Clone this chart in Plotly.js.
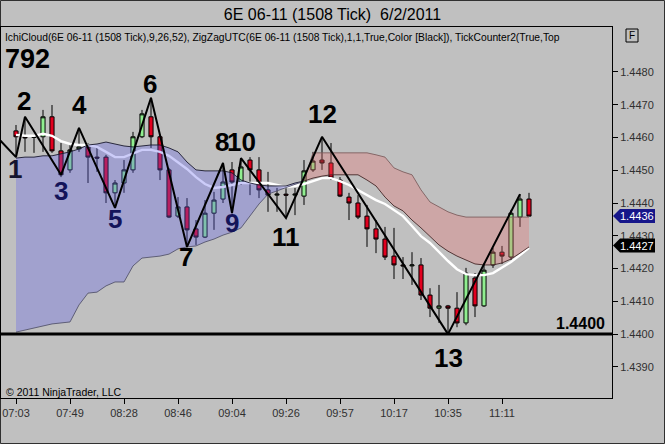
<!DOCTYPE html>
<html><head><meta charset="utf-8">
<script src="https://cdn.plot.ly/plotly-3.0.1.min.js"></script>
<style>html,body{margin:0;padding:0;background:#c0c0c0;}#chart{width:665px;height:444px;}</style>
</head><body><div id="chart"></div>
<script>
// ---- data (bar index = tick bar number) ----
const bars = Array.from({length:58},(_,i)=>i);
const openP  = [1.44620,1.44602,1.44600,1.44602,1.44663,1.44559,1.44501,1.44565,1.44571,1.44540,1.44540,1.44431,1.44461,1.44501,1.44602,1.44663,1.44602,1.44501,1.44360,1.44388,1.44321,1.44296,1.44369,1.44412,1.44501,1.44464,1.44531,1.44501,1.44440,1.44424,1.44427,1.44424,1.44421,1.44501,1.44531,1.44522,1.44470,1.44418,1.44400,1.44360,1.44321,1.44290,1.44238,1.44211,1.44208,1.44211,1.44119,1.44079,1.44086,1.44079,1.44034,1.44171,1.44086,1.44211,1.44250,1.44235,1.44357,1.44412];
const highP  = [1.44638,1.44663,1.44608,1.44684,1.44699,1.44583,1.44577,1.44629,1.44583,1.44568,1.44547,1.44470,1.44531,1.44617,1.44684,1.44721,1.44608,1.44507,1.44418,1.44415,1.44348,1.44409,1.44434,1.44522,1.44525,1.44537,1.44540,1.44540,1.44495,1.44446,1.44446,1.44446,1.44531,1.44556,1.44602,1.44583,1.44479,1.44431,1.44424,1.44394,1.44348,1.44327,1.44324,1.44235,1.44250,1.44232,1.44140,1.44150,1.44089,1.44128,1.44202,1.44186,1.44217,1.44263,1.44269,1.44379,1.44427,1.44431];
const lowP   = [1.44540,1.44556,1.44553,1.44556,1.44553,1.44479,1.44492,1.44556,1.44461,1.44495,1.44400,1.44385,1.44431,1.44492,1.44598,1.44568,1.44470,1.44354,1.44354,1.44266,1.44272,1.44293,1.44318,1.44400,1.44369,1.44455,1.44424,1.44415,1.44373,1.44373,1.44354,1.44363,1.44394,1.44495,1.44501,1.44470,1.44418,1.44348,1.44351,1.44266,1.44247,1.44226,1.44168,1.44168,1.44150,1.44104,1.44052,1.44034,1.44000,1.44021,1.44027,1.44052,1.44083,1.44202,1.44214,1.44226,1.44327,1.44360];
const closeP = [1.44602,1.44599,1.44603,1.44663,1.44559,1.44486,1.44562,1.44571,1.44540,1.44537,1.44431,1.44461,1.44501,1.44602,1.44672,1.44602,1.44501,1.44357,1.44388,1.44318,1.44296,1.44369,1.44409,1.44464,1.44464,1.44510,1.44501,1.44440,1.44424,1.44427,1.44424,1.44427,1.44498,1.44528,1.44522,1.44476,1.44421,1.44400,1.44357,1.44321,1.44290,1.44235,1.44211,1.44208,1.44211,1.44119,1.44079,1.44086,1.44079,1.44034,1.44186,1.44086,1.44195,1.44250,1.44238,1.44369,1.44412,1.44360];
const spanA  = [1.44537,1.44540,1.44540,1.44544,1.44544,1.44550,1.44556,1.44565,1.44577,1.44580,1.44586,1.44580,1.44574,1.44571,1.44574,1.44577,1.44577,1.44568,1.44556,1.44525,1.44501,1.44498,1.44498,1.44498,1.44492,1.44470,1.44461,1.44455,1.44452,1.44452,1.44452,1.44461,1.44467,1.44476,1.44482,1.44486,1.44486,1.44486,1.44486,1.44470,1.44452,1.44418,1.44391,1.44376,1.44348,1.44324,1.44299,1.44272,1.44253,1.44238,1.44226,1.44214,1.44211,1.44211,1.44217,1.44229,1.44247,1.44266];
const spanB  = [1.44006,1.44012,1.44018,1.44024,1.44031,1.44034,1.44037,1.44089,1.44125,1.44128,1.44147,1.44159,1.44159,1.44208,1.44232,1.44235,1.44238,1.44244,1.44260,1.44266,1.44269,1.44281,1.44290,1.44302,1.44311,1.44324,1.44360,1.44397,1.44427,1.44437,1.44446,1.44455,1.44467,1.44553,1.44553,1.44553,1.44553,1.44553,1.44553,1.44553,1.44547,1.44540,1.44507,1.44495,1.44486,1.44440,1.44403,1.44388,1.44373,1.44363,1.44357,1.44357,1.44357,1.44357,1.44357,1.44357,1.44357,1.44357];
const whiteLine = [1.44608,1.44605,1.44605,1.44611,1.44605,1.44589,1.44580,1.44577,1.44577,1.44571,1.44556,1.44540,1.44540,1.44550,1.44562,1.44562,1.44556,1.44544,1.44525,1.44504,1.44479,1.44458,1.44446,1.44449,1.44455,1.44461,1.44461,1.44461,1.44461,1.44455,1.44449,1.44452,1.44458,1.44467,1.44476,1.44476,1.44467,1.44455,1.44440,1.44424,1.44409,1.44397,1.44379,1.44360,1.44330,1.44299,1.44278,1.44250,1.44223,1.44198,1.44183,1.44180,1.44180,1.44186,1.44202,1.44220,1.44241,1.44263];
const cloudCross = 32;
const pivotBars   = [-2,0,1,5,7,11,15,19,23,24,25,30,34,48,56];
const pivotPrices = [1.44598,1.44540,1.44663,1.44486,1.44629,1.44385,1.44721,1.44266,1.44522,1.44369,1.44537,1.44354,1.44602,1.44000,1.44427];
const pivotLabels = ["1","2","3","4","5","6","7","8","9","10","11","12","13"];
const timeTickBars = [0,6,12,18,24,30,36,42,48,54];
const timeTickLabels = ["07:03","07:49","08:28","08:46","09:04","09:26","09:57","10:17","10:35","11:11"];
const priceTicks = [1.4390,1.4400,1.4410,1.4420,1.4430,1.4440,1.4450,1.4460,1.4470,1.4480];
const tagValues = [1.4436, 1.4427];
const tagColors = ["#16168a", "#000000"];
const levelLine = 1.4400;
const barCount = "792";

// ---- styles ----
const LM=1, TM=27, PW=611, PH=371;
const pxX = px => (px-LM)/PW;
const pxY = py => (TM+PH-py)/PH;
const labelShiftY = [-12,16,-16,23,-11,14,-10,21,-10,16,-19,23,-24];
const labelShiftX = [-1,-1,0,0,0,-1,-1,-1,0,0,0,0,0];
const labelColors = ["#15152e","#000","#14145a","#000","#14145a","#000","#000","#000","#14145a","#000","#000","#000","#000"];
const F = "Liberation Sans, Arial, sans-serif";

const traces = [];
traces.push({type:'candlestick', x:bars, open:openP, high:highP, low:lowP, close:closeP,
  increasing:{line:{color:'#000',width:1}, fillcolor:'#90ee90'},
  decreasing:{line:{color:'#000',width:1}, fillcolor:'#e2001e'},
  whiskerwidth:0, hoverinfo:'skip', showlegend:false});
traces.push({type:'scatter', mode:'lines', x:bars, y:whiteLine, line:{color:'#ffffff',width:2.4}, hoverinfo:'skip', showlegend:false});
const bIdx = bars.slice(0, cloudCross+1), pIdx = bars.slice(cloudCross);
traces.push({type:'scatter', mode:'lines', x:bIdx, y:spanA.slice(0,cloudCross+1), line:{color:'rgba(25,25,45,0.9)',width:1}, hoverinfo:'skip', showlegend:false});
traces.push({type:'scatter', mode:'lines', x:bIdx, y:spanB.slice(0,cloudCross+1), fill:'tonexty', fillcolor:'rgba(95,95,235,0.32)', line:{color:'rgba(80,80,105,0.85)',width:1}, hoverinfo:'skip', showlegend:false});
traces.push({type:'scatter', mode:'lines', x:pIdx, y:spanB.slice(cloudCross), line:{color:'rgba(125,95,95,0.9)',width:1}, hoverinfo:'skip', showlegend:false});
traces.push({type:'scatter', mode:'lines', x:pIdx, y:spanA.slice(cloudCross), fill:'tonexty', fillcolor:'rgba(235,105,105,0.3)', line:{color:'rgba(70,40,40,0.9)',width:1}, hoverinfo:'skip', showlegend:false});
traces.push({type:'scatter', mode:'lines', x:pivotBars, y:pivotPrices, line:{color:'#000',width:2}, hoverinfo:'skip', showlegend:false});

const annotations = [];
pivotLabels.forEach((t,i)=>{
  annotations.push({x:pivotBars[i+1], y:pivotPrices[i+1], xref:'x', yref:'y', text:t, showarrow:false,
    xanchor:'center', yanchor:'middle', xshift:labelShiftX[i], yshift:labelShiftY[i],
    font:{family:F, size:26, color:labelColors[i], weight:'bold'}});
});
annotations.push({xref:'paper', yref:'paper', x:pxX(3), y:pxY(38), xanchor:'left', yanchor:'middle', showarrow:false,
  text:'IchiCloud(6E 06-11 (1508 Tick),9,26,52), ZigZagUTC(6E 06-11 (1508 Tick),1,1,True,Color [Black]), TickCounter2(True,Top',
  font:{family:F, size:10.3, color:'#000'}});
annotations.push({xref:'paper', yref:'paper', x:pxX(3), y:pxY(59), xanchor:'left', yanchor:'middle', showarrow:false,
  text:barCount, font:{family:F, size:27, color:'#000', weight:'bold'}});
annotations.push({xref:'paper', yref:'y', x:pxX(607), y:levelLine, xanchor:'right', yanchor:'bottom', yshift:0, showarrow:false,
  text:levelLine.toFixed(4), font:{family:F, size:16, color:'#000', weight:'bold'}});
annotations.push({xref:'paper', yref:'paper', x:pxX(4), y:pxY(392), xanchor:'left', yanchor:'middle', showarrow:false,
  text:'© 2011 NinjaTrader, LLC', font:{family:F, size:10.5, color:'#000'}});
annotations.push({xref:'paper', yref:'paper', x:pxX(632), y:pxY(35.5), xanchor:'center', yanchor:'middle', showarrow:false,
  text:'F', font:{family:F, size:10, color:'#000'}});

const shapes = [];
shapes.push({type:'line', xref:'paper', yref:'y', x0:0, x1:1, y0:levelLine, y1:levelLine, line:{color:'#000', width:3}});
tagValues.forEach((v,i)=>{
  shapes.push({type:'path', xref:'paper', yref:'y', xsizemode:'pixel', ysizemode:'pixel', xanchor:1, yanchor:v,
    path:'M 1 0 L 8 7 L 43 7 L 43 -7 L 8 -7 Z', fillcolor:tagColors[i], line:{width:0}});
  annotations.push({xref:'paper', yref:'y', x:pxX(637), y:v, xanchor:'center', yanchor:'middle', showarrow:false, borderpad:0,
    text:v.toFixed(4), font:{family:F, size:11, color:'#fff'}});
});
shapes.push({type:'rect', xref:'paper', yref:'paper', x0:pxX(626), x1:pxX(638), y0:pxY(42), y1:pxY(29), line:{color:'#000', width:1}});
shapes.push({type:'rect', xref:'paper', yref:'paper', x0:pxX(0.5), x1:pxX(664.5), y0:pxY(443.5), y1:pxY(0.5), line:{color:'#303030', width:1}, layer:'below'});

const layout = {
  width:665, height:444, autosize:false,
  margin:{l:LM, r:665-LM-PW, t:TM, b:444-TM-PH, pad:0},
  paper_bgcolor:'#c0c0c0', plot_bgcolor:'#c0c0c0',
  boxgap:0.35,
  title:{text:'6E 06-11 (1508 Tick)  6/2/2011', xref:'container', yref:'container', x:0.5, y:1-14/444, xanchor:'center', yanchor:'middle', font:{family:F, size:16, color:'#000'}},
  xaxis:{range:[(1-16)/9, (612-16)/9], tickvals:timeTickBars, ticktext:timeTickLabels, ticks:'outside', ticklen:5, tickcolor:'#000',
    showline:true, mirror:true, linecolor:'#000', linewidth:1, showgrid:false, zeroline:false, rangeslider:{visible:false},
    tickfont:{family:F, size:11, color:'#303030'}, fixedrange:true},
  yaxis:{side:'right', range:[1.43805, 1.44937], tickvals:priceTicks, ticktext:priceTicks.map(v=>v.toFixed(4)), ticks:'outside', ticklen:5, tickcolor:'#000',
    showline:true, mirror:true, linecolor:'#000', linewidth:1, showgrid:false, zeroline:false,
    tickfont:{family:F, size:11, color:'#303030'}, fixedrange:true},
  annotations:annotations, shapes:shapes, showlegend:false
};
Plotly.newPlot('chart', traces, layout, {staticPlot:true, displayModeBar:false});
</script></body></html>
